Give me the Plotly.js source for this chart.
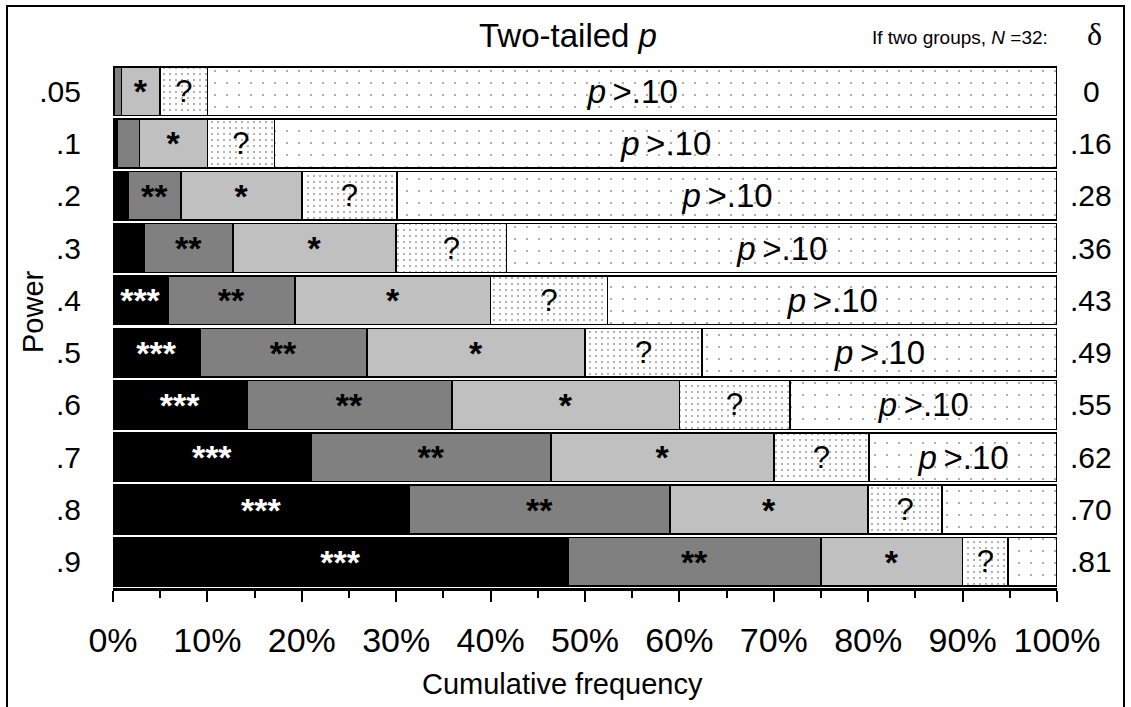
<!DOCTYPE html>
<html>
<head>
<meta charset="utf-8">
<script src="https://cdn.plot.ly/plotly-3.0.1.min.js"></script>
<style>
html,body{margin:0;padding:0;background:#fff;}
#chart{width:1131px;height:707px;}
</style>
</head>
<body>
<div id="chart"></div>
<script>
// Power levels (rows, top to bottom) and effect sizes delta (right column)
const powerLabels = ['.05', '.1', '.2', '.3', '.4', '.5', '.6', '.7', '.8', '.9'];
const deltaLabels = ['0', '.16', '.28', '.36', '.43', '.49', '.55', '.62', '.70', '.81'];

// Cumulative frequency (%) of two-tailed p below each threshold
const cumP001 = [0.1, 0.4, 1.6, 3.3, 5.8, 9.2, 14.2, 21.0, 31.4, 48.2];
const cumP01  = [0.9, 2.8, 7.2, 12.7, 19.3, 26.9, 35.9, 46.4, 59.0, 75.0];
const cumP05  = [5, 10, 20, 30, 40, 50, 60, 70, 80, 90];
const cumP10  = [10, 17.1, 30.1, 41.7, 52.4, 62.4, 71.7, 80.1, 87.8, 94.8];
const cumAll  = [100, 100, 100, 100, 100, 100, 100, 100, 100, 100];

// Segment labels
const lab001 = ['', '', '', '', '***', '***', '***', '***', '***', '***'];
const lab01  = ['', '', '**', '**', '**', '**', '**', '**', '**', '**'];
const lab05  = ['*', '*', '*', '*', '*', '*', '*', '*', '*', '*'];
const lab10  = ['?', '?', '?', '?', '?', '?', '?', '?', '?', '?'];
const PGT = '<i>p</i>\u2009&gt;.10';
const labRest = [PGT, PGT, PGT, PGT, PGT, PGT, PGT, PGT, '', ''];

const FONT = 'Arial, "Liberation Sans", sans-serif';
const diff = (a, b) => a.map((v, i) => +(v - (b ? b[i] : 0)).toFixed(3));

const segs = [
  {name: 'p < .001', x: diff(cumP001), text: lab001, color: '#000000', tcolor: '#ffffff', bold: true, size: 34},
  {name: 'p < .01',  x: diff(cumP01, cumP001), text: lab01, color: '#808080', tcolor: '#000000', bold: true, size: 34},
  {name: 'p < .05',  x: diff(cumP05, cumP01), text: lab05, color: '#c0c0c0', tcolor: '#000000', bold: true, size: 34},
  {name: 'p < .10',  x: diff(cumP10, cumP05), text: lab10, color: '#ffffff', tcolor: '#000000', bold: false, size: 31,
   pattern: {shape: '.', fgcolor: '#9a9a9a', bgcolor: '#ffffff', size: 6, solidity: 0.09}},
  {name: 'p > .10',  x: diff(cumAll, cumP10), text: labRest, color: '#ffffff', tcolor: '#000000', bold: false, size: 33,
   pattern: {shape: '.', fgcolor: '#9a9a9a', bgcolor: '#ffffff', size: 12, solidity: 0.025}}
];

const traces = segs.map(s => {
  const m = {color: s.color, line: {color: '#000000', width: 1.5}};
  if (s.pattern) m.pattern = s.pattern;
  return {
    type: 'bar', orientation: 'h', name: s.name,
    x: s.x, y: powerLabels, text: s.text,
    textposition: 'inside', insidetextanchor: 'middle', textangle: 0,
    constraintext: 'none',
    textfont: {family: FONT, size: s.size, color: s.tcolor, weight: s.bold ? 'bold' : 'normal'},
    marker: m, hoverinfo: 'x+y+name', cliponaxis: false
  };
});

// plot area in pixels
const L = 113, R = 1057, T = 65, B = 588;
const W = R - L, H = B - T;
const px = v => (v - L) / W;
const py = v => (B - v) / H;

const annotations = [];
deltaLabels.forEach((d, i) => {
  // category axis: position by category index
  annotations.push({xref: 'paper', yref: 'y', x: px(1091), y: i, text: d,
    showarrow: false, xanchor: 'center', yanchor: 'middle', font: {family: FONT, size: 30, color: '#000'}});
});
annotations.push({xref: 'paper', yref: 'paper', x: px(1050), y: py(37), text: 'If two groups, <i>N</i> =32:',
  showarrow: false, xanchor: 'right', yanchor: 'middle',
  font: {family: FONT, size: 19, color: '#000'}});
annotations.push({xref: 'paper', yref: 'paper', x: px(1094), y: py(34), text: 'δ',
  showarrow: false, xanchor: 'center', yanchor: 'middle',
  font: {family: '"Times New Roman", "Liberation Serif", serif', size: 32, color: '#000'}});
annotations.push({xref: 'paper', yref: 'paper', x: px(33), y: py(312), text: 'Power', textangle: -90,
  showarrow: false, xanchor: 'center', yanchor: 'middle', font: {family: FONT, size: 29, color: '#000'}});
annotations.push({xref: 'paper', yref: 'paper', x: px(562), y: py(684), text: 'Cumulative frequency',
  showarrow: false, xanchor: 'center', yanchor: 'middle', font: {family: FONT, size: 29, color: '#000'}});

const layout = {
  width: 1131, height: 707,
  margin: {l: L, r: 1131 - R, t: T, b: 707 - B, pad: 0},
  paper_bgcolor: '#ffffff', plot_bgcolor: '#ffffff',
  font: {family: FONT, size: 29, color: '#000'},
  title: {text: 'Two-tailed <i>p</i>', x: 568 / 1131, xanchor: 'center', xref: 'container',
          y: 1 - 35 / 707, yanchor: 'middle', yref: 'container', font: {family: FONT, size: 33, color: '#000'}},
  barmode: 'stack', bargap: 0.07,
  showlegend: false,
  xaxis: {
    range: [0, 100], dtick: 10, tick0: 0, ticksuffix: '%',
    ticks: 'outside', ticklen: 11, tickwidth: 2, tickcolor: '#000',
    minor: {dtick: 5, ticks: 'outside', ticklen: 7, tickwidth: 2, tickcolor: '#000'},
    showline: true, linewidth: 2.5, linecolor: '#000',
    showgrid: false, zeroline: false, fixedrange: true,
    tickfont: {family: FONT, size: 34, color: '#000'},
    ticklabelstandoff: 10
  },
  yaxis: {
    type: 'category', categoryorder: 'array', categoryarray: powerLabels,
    autorange: 'reversed', showgrid: false, zeroline: false, showline: false,
    ticks: '', tickfont: {family: FONT, size: 30, color: '#000'},
    ticklabelstandoff: 31, fixedrange: true
  },
  annotations: annotations,
  shapes: [{type: 'rect', xref: 'paper', yref: 'paper', x0: px(7), x1: px(1124), y0: py(730), y1: py(6),
            line: {color: '#000', width: 2}, fillcolor: 'rgba(0,0,0,0)', layer: 'above'}]
};

Plotly.newPlot('chart', traces, layout, {displayModeBar: false, staticPlot: true});
</script>
</body>
</html>
